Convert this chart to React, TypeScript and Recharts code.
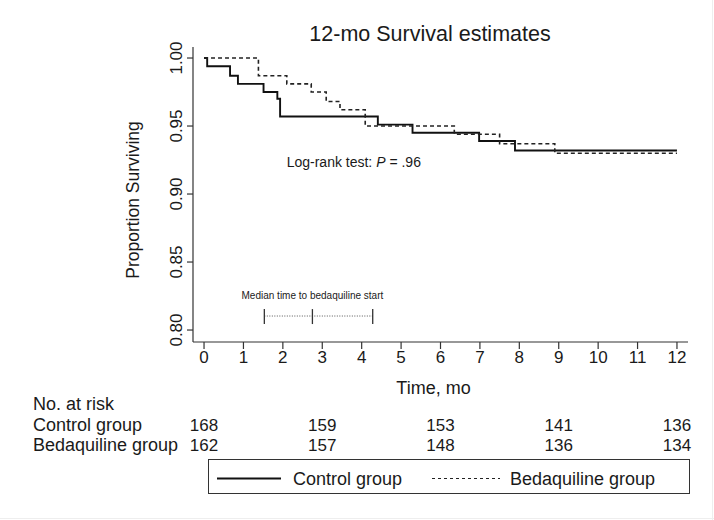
import * as React from "react"
import {
  LineChart,
  Line,
  XAxis,
  YAxis,
  ReferenceLine,
  ReferenceDot,
  Label,
} from "recharts"

// Kaplan-Meier steps
const ctlTime = [0, 0.08, 0.66, 0.86, 1.51, 1.86, 1.93, 4.41, 5.29, 6.98, 7.89, 12]
const ctlSurv = [1, 0.994, 0.987, 0.981, 0.975, 0.97, 0.957, 0.951, 0.945, 0.939, 0.932, 0.932]
const bdqTime = [0, 1.38, 2.1, 2.72, 3.1, 3.45, 4.09, 6.35, 7.5, 8.9, 12]
const bdqSurv = [1, 0.987, 0.981, 0.975, 0.968, 0.962, 0.95, 0.944, 0.937, 0.93, 0.93]

// number at risk
const riskTimes = [0, 3, 6, 9, 12]
const ctlRisk = [168, 159, 153, 141, 136]
const bdqRisk = [162, 157, 148, 136, 134]

// median (IQR) time to bedaquiline start, months
const medianStart = [1.53, 2.75, 4.28]

const xTicks = [0, 1, 2, 3, 4, 5, 6, 7, 8, 9, 10, 11, 12]
const yTicks = [0.8, 0.85, 0.9, 0.95, 1.0]

const FONT = '"Liberation Sans", Arial, sans-serif'
const INK = "#1a1a1a"

const ctlData = ctlTime.map((t, i) => ({ t, s: ctlSurv[i] }))
const bdqData = bdqTime.map((t, i) => ({ t, s: bdqSurv[i] }))

function XTick(props: any) {
  const { x, y, payload } = props
  const idx = riskTimes.indexOf(payload.value)
  return (
    <g fontFamily={FONT} fontSize={17} fill={INK}>
      <text x={x} y={y} dy="0.71em" textAnchor="middle">
        {payload.value}
      </text>
      {idx >= 0 && (
        <>
          <text x={x} y={y + 80} textAnchor="middle">
            {ctlRisk[idx]}
          </text>
          <text x={x} y={y + 100} textAnchor="middle">
            {bdqRisk[idx]}
          </text>
        </>
      )}
    </g>
  )
}

function YTick(props: any) {
  const { x, y, payload } = props
  const bx = x - 3
  return (
    <text
      x={bx}
      y={y}
      transform={`rotate(-90, ${bx}, ${y})`}
      textAnchor="middle"
      fontFamily={FONT}
      fontSize={17}
      fill={INK}
    >
      {payload.value.toFixed(2)}
    </text>
  )
}

function YTitle(props: any) {
  const { viewBox } = props
  const cx = viewBox.x + 26
  const cy = 200
  return (
    <text
      x={cx}
      y={cy}
      transform={`rotate(-90, ${cx}, ${cy})`}
      textAnchor="middle"
      fontFamily={FONT}
      fontSize={17.5}
      fill={INK}
    >
      Proportion Surviving
    </text>
  )
}

function LogRankLabel(props: any) {
  const { viewBox } = props
  return (
    <text
      x={viewBox.x}
      y={viewBox.y}
      dominantBaseline="central"
      textAnchor="middle"
      fontFamily={FONT}
      fontSize={14}
      fill={INK}
    >
      Log-rank test: <tspan fontStyle="italic">P</tspan> = .96
    </text>
  )
}

function MedianLabel(props: any) {
  const { viewBox } = props
  return (
    <text
      x={viewBox.x}
      y={viewBox.y}
      dominantBaseline="central"
      textAnchor="middle"
      fontFamily={FONT}
      fontSize={10}
      fill={INK}
    >
      Median time to bedaquiline start
    </text>
  )
}

export default function App() {
  return (
    <div
      style={{
        position: "absolute",
        left: 0,
        top: 0,
        width: 714,
        height: 520,
        background: "#fff",
      }}
    >
      <LineChart
        width={714}
        height={520}
        margin={{ top: 47, right: 26, bottom: 122, left: 113 }}
      >
        <XAxis
          dataKey="t"
          type="number"
          domain={[-0.28, 12.28]}
          allowDataOverflow
          ticks={xTicks}
          interval={0}
          height={56}
          tickSize={7}
          tickMargin={2}
          stroke="#333"
          strokeWidth={1.2}
          tick={<XTick />}
        >
          <Label
            value="Time, mo"
            position="insideBottom"
            offset={0}
            dx={-7}
            dy={-4}
            style={{ fontFamily: FONT, fontSize: 18, fill: INK }}
          />
        </XAxis>
        <YAxis
          type="number"
          domain={[0.7912, 1.0081]}
          allowDataOverflow
          ticks={yTicks}
          interval={0}
          width={80}
          tickSize={6}
          tickMargin={2}
          stroke="#333"
          strokeWidth={1.2}
          tick={<YTick />}
        >
          <Label content={<YTitle />} />
        </YAxis>

        <Line
          data={ctlData}
          dataKey="s"
          type="stepAfter"
          stroke="#111"
          strokeWidth={1.9}
          dot={false}
          isAnimationActive={false}
        />
        <Line
          data={bdqData}
          dataKey="s"
          type="stepAfter"
          stroke="#222"
          strokeWidth={1.6}
          strokeDasharray="4 3"
          dot={false}
          isAnimationActive={false}
        />

        <ReferenceLine
          segment={[
            { x: medianStart[0], y: 0.8103 },
            { x: medianStart[2], y: 0.8103 },
          ]}
          stroke="#555"
          strokeWidth={1}
          strokeDasharray="1 1.5"
        />
        {medianStart.map((m) => (
          <ReferenceLine
            key={m}
            segment={[
              { x: m, y: 0.8044 },
              { x: m, y: 0.8154 },
            ]}
            stroke="#333"
            strokeWidth={1.3}
          />
        ))}
        <ReferenceDot
          x={medianStart[1]}
          y={0.8257}
          r={0}
          fill="none"
          stroke="none"
          label={<MedianLabel />}
        />
        <ReferenceDot
          x={3.8}
          y={0.9235}
          r={0}
          fill="none"
          stroke="none"
          label={<LogRankLabel />}
        />
      </LineChart>

      <svg
        width={714}
        height={520}
        style={{ position: "absolute", left: 0, top: 0, pointerEvents: "none" }}
        fontFamily={FONT}
        fill={INK}
      >
        <text x={430} y={41} textAnchor="middle" fontSize={21.5}>
          12-mo Survival estimates
        </text>
        <text x={33} y={410} fontSize={18}>
          No. at risk
        </text>
        <text x={33} y={431} fontSize={18}>
          Control group
        </text>
        <text x={33} y={451} fontSize={18}>
          Bedaquiline group
        </text>
        <rect x={208.5} y={459.5} width={481} height={34} fill="none" stroke="#333" strokeWidth={1} />
        <line x1={217} x2={281} y1={478.5} y2={478.5} stroke="#111" strokeWidth={1.8} />
        <text x={293} y={485} fontSize={18}>
          Control group
        </text>
        <line x1={432} x2={500} y1={478.5} y2={478.5} stroke="#222" strokeWidth={1.2} strokeDasharray="3 3" />
        <text x={510} y={485} fontSize={18}>
          Bedaquiline group
        </text>
        <line x1={0} x2={714} y1={518.5} y2={518.5} stroke="#eee" />
        <line x1={712.5} x2={712.5} y1={0} y2={520} stroke="#eee" />
      </svg>
    </div>
  )
}
